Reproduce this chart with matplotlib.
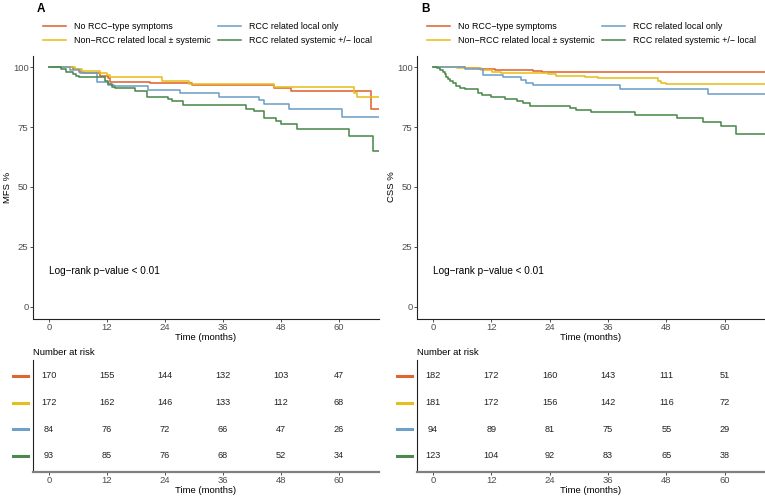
import matplotlib
matplotlib.use("Agg")
import matplotlib.pyplot as plt

plt.rcParams['font.family'] = ['Liberation Sans', 'DejaVu Sans']

# ---------------- data ----------------
group_labels = ["No RCC\u2212type symptoms", "Non\u2212RCC related local \u00b1 systemic",
                "RCC related local only", "RCC related systemic +/\u2212 local"]
colors = ['#E0652F', '#E8BD1E', '#6FA0C8', '#4C8A4C']

follow_up_end = 70

# Panel A: MFS
mfs_orange_t = [0, 5.0, 6.2, 7.0, 10.6, 12.2, 12.6, 20.9, 29.5, 46.6, 50.1, 66.7]
mfs_orange_s = [100, 99.2, 98.3, 97.5, 96.6, 95.4, 94.1, 93.4, 92.7, 91.4, 90.2, 82.6]
mfs_yellow_t = [0, 5.4, 6.8, 10.6, 12.0, 12.6, 14.0, 23.3, 29.0, 46.6, 63.1, 63.8]
mfs_yellow_s = [100, 99.3, 98.6, 97.6, 96.9, 96.2, 95.8, 94.4, 93.1, 91.9, 89.3, 87.6]
mfs_blue_t = [0, 4.4, 6.5, 9.9, 12.3, 13.5, 20.5, 27.1, 35.2, 43.4, 44.6, 49.7, 60.7]
mfs_blue_s = [100, 99.0, 97.5, 94.1, 92.8, 92.2, 90.7, 89.2, 87.6, 86.2, 84.8, 82.6, 79.1]
mfs_green_t = [0, 2.4, 3.5, 5.0, 5.6, 6.3, 11.6, 12.2, 13.0, 13.6, 17.8, 20.3, 24.6, 25.5,
               27.7, 40.7, 42.5, 44.6, 47.0, 48.0, 51.3, 62.0, 67.1]
mfs_green_s = [100, 99.3, 98.3, 97.4, 96.5, 95.8, 94.3, 93.0, 92.0, 91.2, 90.0, 87.6, 86.7, 85.8,
               84.3, 82.7, 81.6, 78.8, 77.7, 76.4, 74.3, 71.4, 65.2]

# Panel B: CSS
css_orange_t = [0, 6.5, 9.5, 12.8, 20.5, 22.5]
css_orange_s = [100, 99.6, 99.2, 98.9, 98.5, 98.1]
css_yellow_t = [0, 5.0, 9.8, 12.2, 14.0, 23.7, 25.4, 31.2, 34.0, 46.3, 47.0, 48.0]
css_yellow_s = [100, 99.6, 99.1, 98.3, 97.7, 97.1, 96.5, 96.0, 95.5, 94.5, 93.5, 93.0]
css_blue_t = [0, 6.5, 10.3, 14.4, 18.2, 19.2, 20.6, 38.4, 56.6]
css_blue_s = [100, 99.2, 97.0, 96.0, 94.6, 93.5, 92.5, 91.1, 88.9]
css_green_t = [0, 0.9, 1.4, 2.1, 2.4, 2.75, 3.1, 3.4, 4.1, 4.8, 5.5, 6.5, 9.3, 10.0, 12.0, 14.8,
               17.2, 18.5, 19.9, 28.1, 29.5, 32.6, 41.5, 50.1, 55.6, 59.2, 62.4]
css_green_s = [100, 99.6, 99.0, 98.3, 97.2, 95.9, 95.0, 94.2, 93.4, 92.3, 91.4, 90.8, 89.4, 88.6,
               87.6, 86.7, 85.8, 85.1, 84.0, 83.0, 82.3, 81.3, 80.2, 78.8, 77.3, 75.6, 72.2]

risk_times = [0, 12, 24, 36, 48, 60]
mfs_risk_orange = [170, 155, 144, 132, 103, 47]
mfs_risk_yellow = [172, 162, 146, 133, 112, 68]
mfs_risk_blue = [84, 76, 72, 66, 47, 26]
mfs_risk_green = [93, 85, 76, 68, 52, 34]
css_risk_orange = [182, 172, 160, 143, 111, 51]
css_risk_yellow = [181, 172, 156, 142, 116, 72]
css_risk_blue = [94, 89, 81, 75, 55, 29]
css_risk_green = [123, 104, 92, 83, 65, 38]

y_ticks = [0, 25, 50, 75, 100]
pval_text = "Log\u2212rank p\u2212value < 0.01"

# ---------------- figure ----------------
W, H = 765, 496
fig = plt.figure(figsize=(W / 100, H / 100), dpi=100)

FS = 6.8
LFS = 6.4
TICK_C = '#4D4D4D'
XL = (-3.3, 68.3)


def fx(px):
    return px / W


def fy(py):
    return 1 - py / H


def style_axes(ax):
    for s in ['top', 'right']:
        ax.spines[s].set_visible(False)
    ax.tick_params(axis='both', length=2, width=0.6, color='#333333', labelsize=FS,
                   labelcolor=TICK_C, pad=1.2)


panels = [
    dict(left=33, right=379, letter='A', ylabel='MFS %',
         curves=[(mfs_orange_t, mfs_orange_s), (mfs_yellow_t, mfs_yellow_s),
                 (mfs_blue_t, mfs_blue_s), (mfs_green_t, mfs_green_s)],
         risk=[mfs_risk_orange, mfs_risk_yellow, mfs_risk_blue, mfs_risk_green]),
    dict(left=417, right=765, letter='B', ylabel='CSS %',
         curves=[(css_orange_t, css_orange_s), (css_yellow_t, css_yellow_s),
                 (css_blue_t, css_blue_s), (css_green_t, css_green_s)],
         risk=[css_risk_orange, css_risk_yellow, css_risk_blue, css_risk_green]),
]

for p in panels:
    l, r = p['left'], p['right']
    ax = fig.add_axes([fx(l), fy(318.5), (r - l) / W, (318.5 - 55.5) / H])
    handles = []
    for (t, s), c in zip(p['curves'], colors):
        tt = list(t) + [follow_up_end]
        ss = list(s) + [s[-1]]
        h, = ax.step(tt, ss, where='post', color=c, lw=1.15)
        handles.append(h)
    ax.set_xlim(*XL)
    ax.set_ylim(-5, 105)
    ax.set_xticks(risk_times)
    ax.set_yticks(y_ticks)
    style_axes(ax)
    for s in ['left', 'bottom']:
        ax.spines[s].set_linewidth(0.8)
        ax.spines[s].set_color('#222222')
    ax.set_xlabel('Time (months)', fontsize=FS, labelpad=0.6)
    ax.set_ylabel(p['ylabel'], fontsize=FS)
    ax.yaxis.set_label_coords(-21 / (r - l), 0.5)
    ax.text(0, 15, pval_text, fontsize=7.2, ha='left', va='center')

    # panel letter
    fig.text(fx(l + 4), fy(9), p['letter'], fontsize=8.5, fontweight='bold', ha='left', va='center')

    # legend
    fig.legend(handles, group_labels, loc='upper left', ncol=2, frameon=False,
               bbox_to_anchor=(fx(l + 10), fy(22)), fontsize=LFS, handlelength=2.6,
               handletextpad=0.9, columnspacing=0.8, labelspacing=0.55,
               borderpad=0, borderaxespad=0)

    # risk table
    tax = fig.add_axes([fx(l), fy(472), (r - l) / W, (472 - 360) / H])
    tax.set_xlim(*XL)
    tax.set_ylim(0.4, 4.6)
    rows = [4, 3, 2, 1]
    for row, vals, c in zip(rows, p['risk'], colors):
        for t, v in zip(risk_times, vals):
            tax.text(t, row, str(v), ha='center', va='center', fontsize=6.6, color='#222222')
        tax.plot([-0.058, -0.015], [row, row], color=c, lw=2.2, clip_on=False,
                 transform=tax.get_yaxis_transform())
    tax.set_xticks(risk_times)
    tax.set_yticks([])
    style_axes(tax)
    tax.spines['left'].set_linewidth(0.8)
    tax.spines['left'].set_color('#222222')
    tax.spines['bottom'].set_linewidth(1.6)
    tax.spines['bottom'].set_color('#808080')
    tax.set_xlabel('Time (months)', fontsize=FS, labelpad=0.6)
    fig.text(fx(l), fy(352.5), 'Number at risk', fontsize=FS, ha='left', va='center')

fig.savefig('out.png', dpi=100)
